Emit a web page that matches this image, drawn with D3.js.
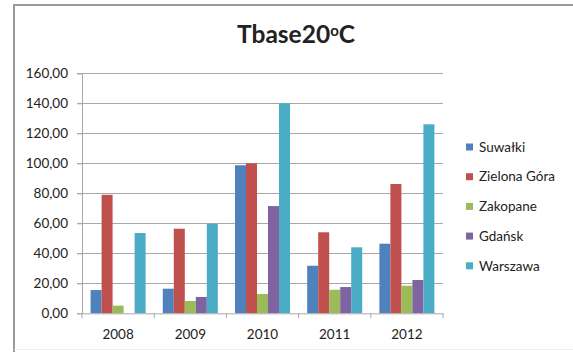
<!DOCTYPE html>
<html>
<head>
<meta charset="utf-8">
<script src="https://cdn.jsdelivr.net/npm/d3@7"></script>
<style>
  html, body { margin: 0; padding: 0; background: #fff; }
  svg { display: block; }
  text { font-family: Lato, "Open Sans", sans-serif; fill: #222; }
</style>
</head>
<body>
<svg id="chart" width="573" height="352"></svg>
<script>
// Heating degree sums, base 20 °C, by year and city
const years = ["2008", "2009", "2010", "2011", "2012"];
const cities = ["Suwałki", "Zielona Góra", "Zakopane", "Gdańsk", "Warszawa"];
const suwalki     = [15.5, 16.4, 98.7, 31.7, 46.4];
const zielonaGora = [79.0, 56.4, 100.0, 54.0, 86.2];
const zakopane    = [5.1, 8.2, 12.9, 15.7, 18.4];
const gdansk      = [0, 10.9, 71.5, 17.5, 22.2];
const warszawa    = [53.5, 59.7, 140.0, 44.0, 126.0];
const yTicks = [0, 20, 40, 60, 80, 100, 120, 140, 160];
const colors = ["#4F81BD", "#C0504D", "#9BBB59", "#8064A2", "#4BACC6"];

const series = [suwalki, zielonaGora, zakopane, gdansk, warszawa];
const svg = d3.select("#chart");

// chart frame
svg.append("line").attr("x1", 14).attr("x2", 573).attr("y1", 5).attr("y2", 5)
  .attr("stroke", "#9a9a9a").attr("stroke-width", 2);
svg.append("line").attr("x1", 14).attr("x2", 14).attr("y1", 4).attr("y2", 352)
  .attr("stroke", "#9a9a9a").attr("stroke-width", 2);
svg.append("line").attr("x1", 14).attr("x2", 573).attr("y1", 349.5).attr("y2", 349.5)
  .attr("stroke", "#f0f0f0").attr("stroke-width", 1);

const plot = { left: 82, right: 443, top: 73.3, bottom: 313.3 };

const x0 = d3.scaleBand().domain(years).range([plot.left, plot.right]).paddingInner(0).paddingOuter(0);
const x1 = d3.scaleBand().domain(d3.range(cities.length))
  .range([0, x0.bandwidth()]).paddingInner(0).paddingOuter(0.78);
const y = d3.scaleLinear().domain([0, 160]).range([plot.bottom, plot.top]);

// gridlines
svg.append("g").selectAll("line").data(yTicks.filter(d => d > 0)).join("line")
  .attr("x1", plot.left - 5).attr("x2", plot.right)
  .attr("y1", d => Math.round(y(d)) + 0.5).attr("y2", d => Math.round(y(d)) + 0.5)
  .attr("stroke", "#a8a8a8").attr("stroke-width", 1);

// bars
const groups = svg.append("g").selectAll("g").data(years).join("g")
  .attr("transform", d => `translate(${x0(d)},0)`);
groups.selectAll("rect")
  .data((yr, i) => series.map((s, k) => ({ k, v: s[i] })))
  .join("rect")
  .attr("x", d => x1(d.k))
  .attr("width", x1.bandwidth())
  .attr("y", d => y(d.v))
  .attr("height", d => y(0) - y(d.v))
  .attr("fill", d => colors[d.k]);

// y axis
const yAxis = svg.append("g").attr("transform", `translate(${plot.left},0)`)
  .call(d3.axisLeft(y).tickValues(yTicks).tickSize(5).tickPadding(9)
    .tickFormat(d => d3.format(".2f")(d).replace(".", ",")));
yAxis.select(".domain").attr("stroke", "#a8a8a8");
yAxis.selectAll(".tick line").attr("stroke", "#a8a8a8");
yAxis.selectAll("text").attr("font-size", 13.5).style("font-family", "Lato, sans-serif").attr("fill", "#222");

// x axis
const xAxis = svg.append("g").attr("transform", `translate(0,${plot.bottom})`)
  .call(d3.axisBottom(x0).tickSize(0).tickPadding(16));
xAxis.select(".domain").attr("stroke", "#a8a8a8");
xAxis.selectAll("text").attr("font-size", 13.5).style("font-family", "Lato, sans-serif").attr("fill", "#222");
svg.append("g").selectAll("line").data(d3.range(years.length + 1)).join("line")
  .attr("x1", i => plot.left + i * x0.bandwidth()).attr("x2", i => plot.left + i * x0.bandwidth())
  .attr("y1", plot.bottom).attr("y2", plot.bottom + 5)
  .attr("stroke", "#a8a8a8");

// title
const title = svg.append("text").attr("x", 296).attr("y", 43)
  .attr("text-anchor", "middle").attr("font-size", 24.5).attr("font-weight", "bold").attr("fill", "#111");
title.append("tspan").text("Tbase20");
title.append("tspan").attr("font-size", 15).attr("dy", -7).text("o");
title.append("tspan").attr("dy", 7).text("C");

// legend
const legend = svg.append("g").selectAll("g").data(cities).join("g")
  .attr("transform", (d, i) => `translate(466,${147 + i * 29.7})`);
legend.append("rect").attr("x", 0).attr("y", -3.5).attr("width", 7).attr("height", 7)
  .attr("fill", (d, i) => colors[i]);
legend.append("text").attr("x", 13).attr("y", 0).attr("dy", "0.35em")
  .attr("font-size", 13.5).attr("fill", "#222").text(d => d);
</script>
</body>
</html>
